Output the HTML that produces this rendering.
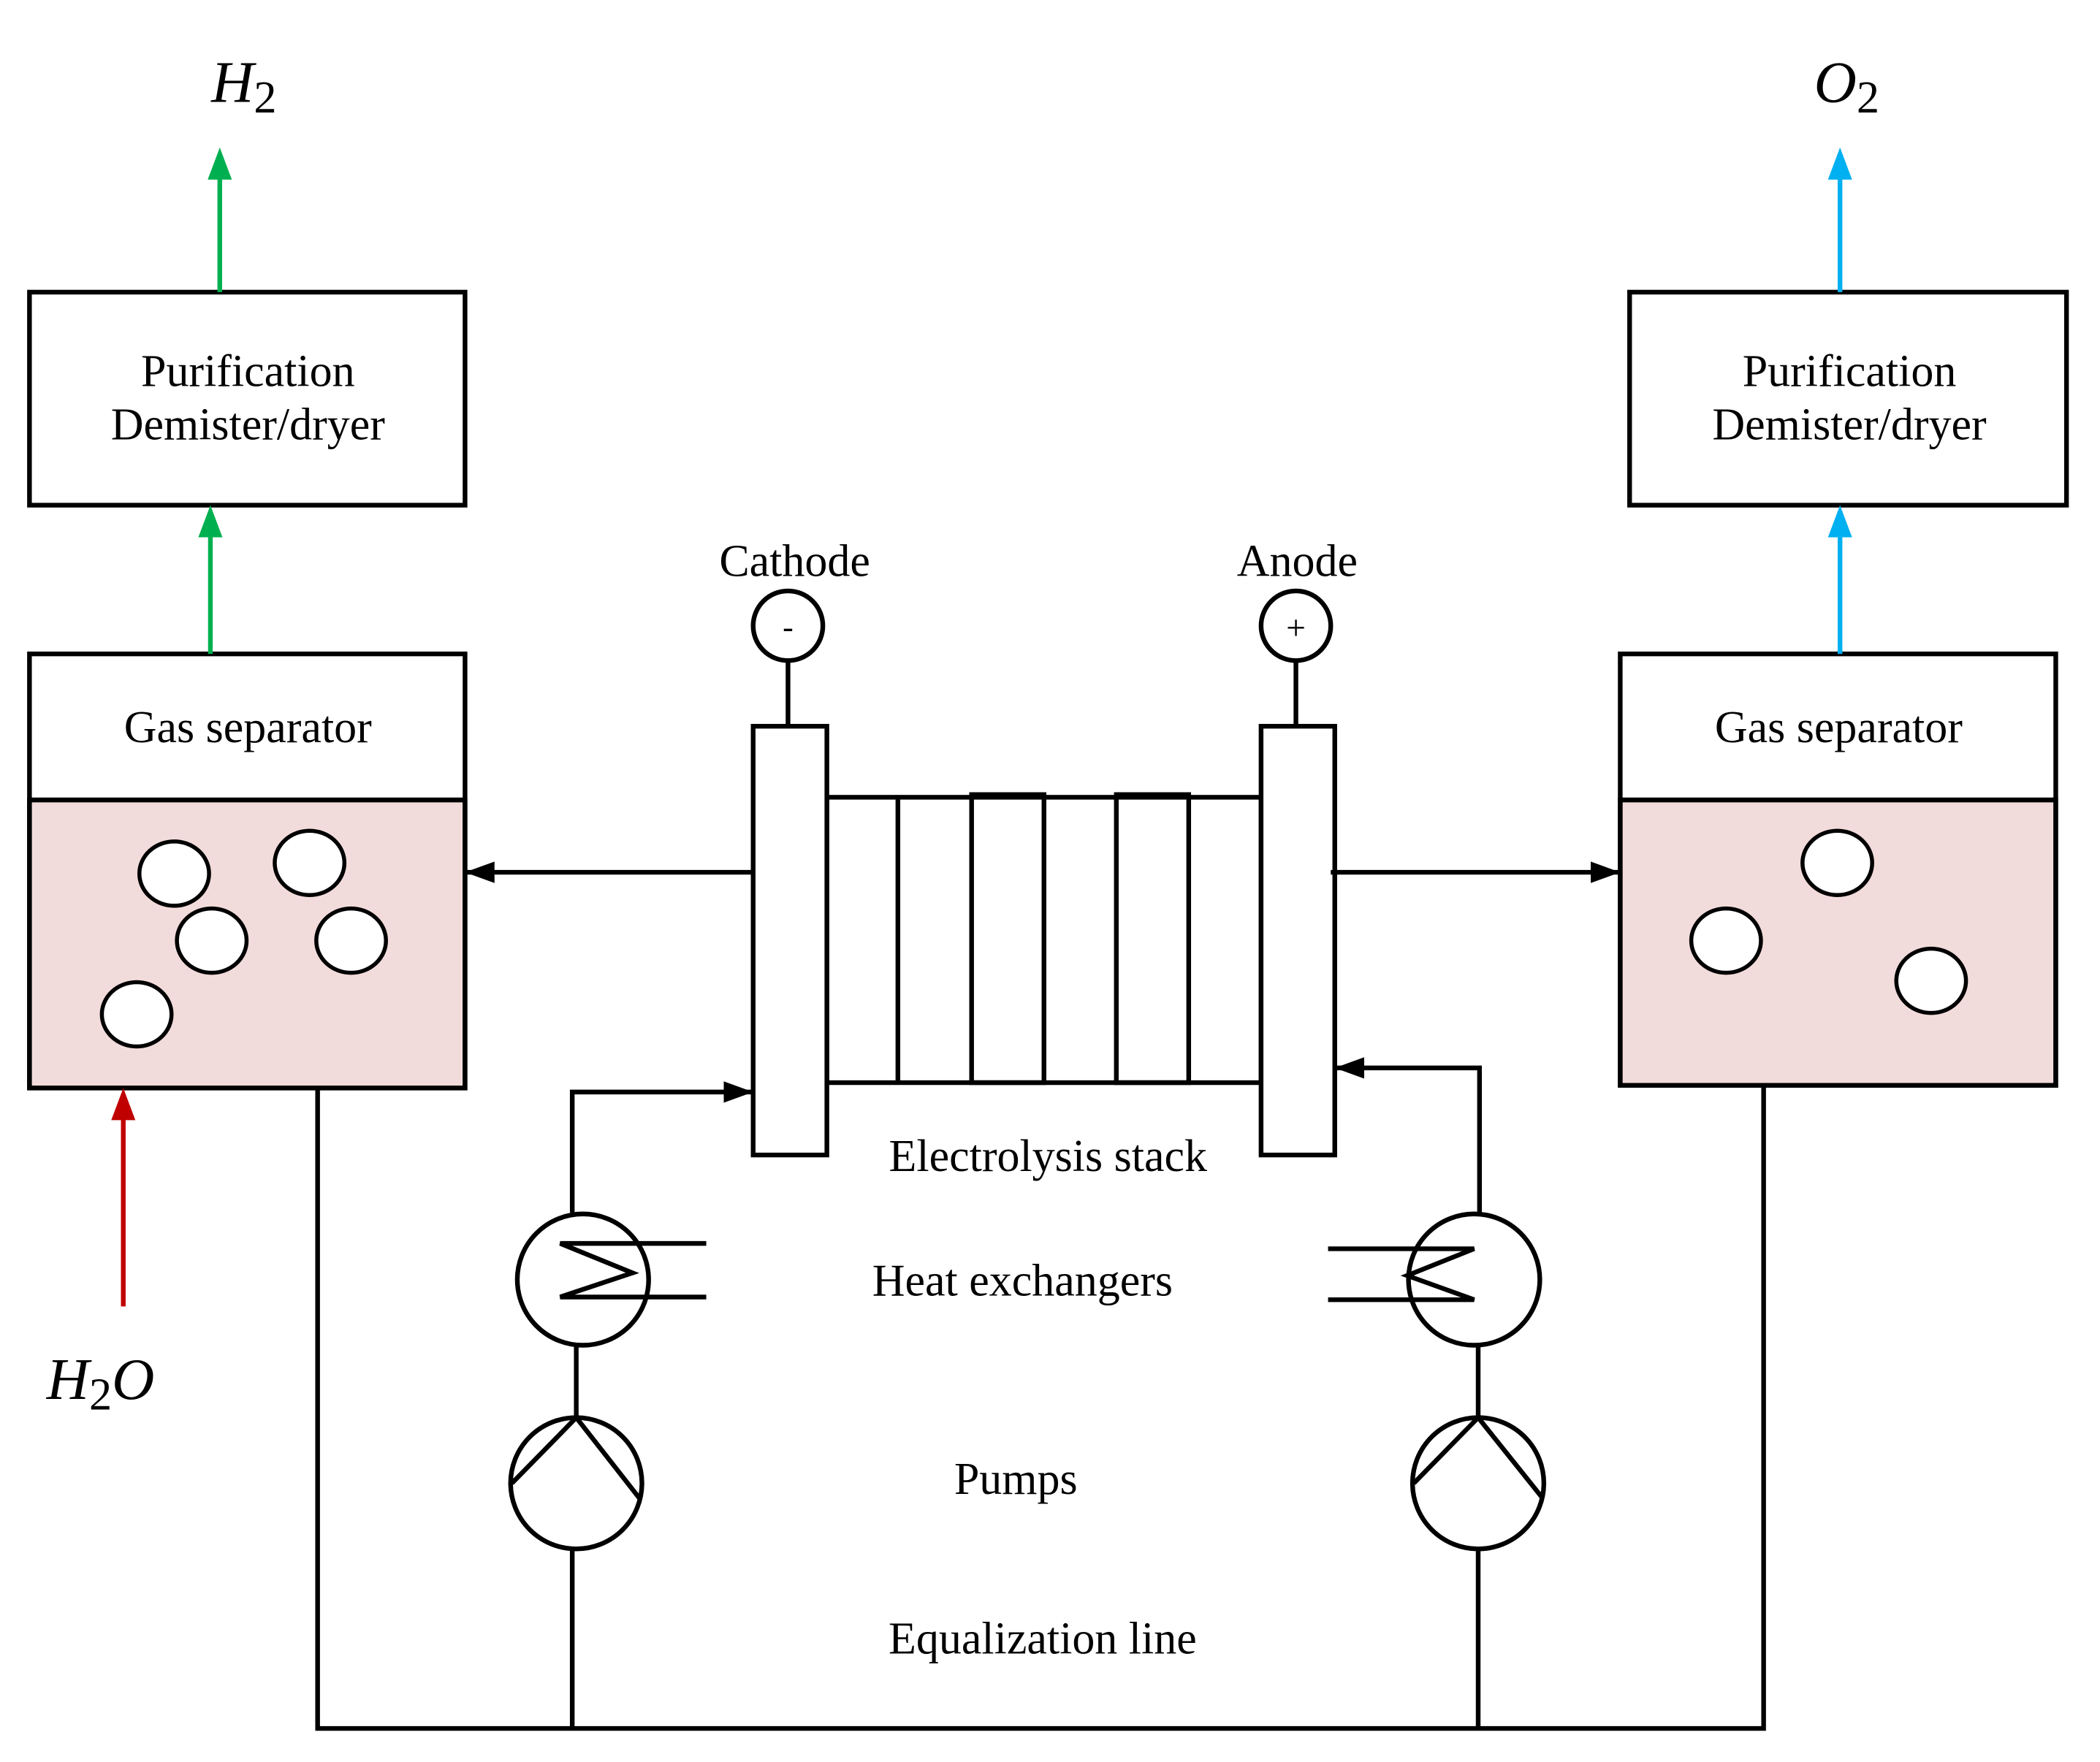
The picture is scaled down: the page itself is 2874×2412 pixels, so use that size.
<!DOCTYPE html>
<html><head><meta charset="utf-8"><style>html,body{margin:0;padding:0;background:#fff}svg{display:block}</style></head>
<body>
<svg width="2874" height="2412" viewBox="0 0 1567 1315" xmlns="http://www.w3.org/2000/svg" font-family="Liberation Serif, serif" font-size="33.8">
<defs>
<marker id="ak" markerWidth="22" markerHeight="16" refX="21" refY="8" orient="auto" markerUnits="userSpaceOnUse" viewBox="0 0 22 16"><path d="M0,0 L22,8 L0,16z" fill="#000"/></marker>
</defs>
<g stroke="#000" stroke-width="3.5" fill="none">
<rect x="22" y="218" width="325" height="159" fill="#fff"/>
<rect x="22" y="597" width="325" height="215" fill="#f2dcdb"/>
<rect x="22" y="488" width="325" height="324"/>
<line x1="22" y1="597" x2="347" y2="597"/>
<rect x="1216" y="218" width="326" height="159" fill="#fff"/>
<rect x="1209" y="597" width="325" height="213" fill="#f2dcdb"/>
<rect x="1209" y="488" width="325" height="322"/>
<line x1="1209" y1="597" x2="1534" y2="597"/>
<g fill="#fff" stroke-width="3">
<ellipse cx="130" cy="652" rx="26" ry="24"/><ellipse cx="231" cy="644" rx="26" ry="24"/>
<ellipse cx="158" cy="702" rx="26" ry="24"/><ellipse cx="262" cy="702" rx="26" ry="24"/>
<ellipse cx="102" cy="757" rx="26" ry="24"/>
<ellipse cx="1371" cy="644" rx="26" ry="24"/><ellipse cx="1288" cy="702" rx="26" ry="24"/>
<ellipse cx="1441" cy="732" rx="26" ry="24"/>
</g>
<rect x="617" y="595" width="324" height="213"/>
<line x1="670" y1="595" x2="670" y2="808"/>
<rect x="725" y="593" width="54" height="215"/>
<rect x="833" y="593" width="54" height="215"/>
<rect x="562" y="542" width="55" height="320" fill="#fff"/>
<rect x="941" y="542" width="55" height="320" fill="#fff"/>
<line x1="588" y1="493" x2="588" y2="542"/>
<line x1="967" y1="493" x2="967" y2="542"/>
<circle cx="588" cy="467" r="26"/>
<circle cx="967" cy="467" r="26"/>
<line x1="562" y1="651" x2="348" y2="651" marker-end="url(#ak)"/>
<line x1="993" y1="651" x2="1208" y2="651" marker-end="url(#ak)"/>
<polyline points="427,905 427,815 561,815" marker-end="url(#ak)"/>
<circle cx="435" cy="955" r="49"/>
<polyline points="527,928 418,928 472,950 418,968 527,968"/>
<line x1="430" y1="1004" x2="430" y2="1058"/>
<circle cx="430" cy="1107" r="49"/>
<polyline points="382,1107 430,1058 477,1118"/>
<line x1="427" y1="1156" x2="427" y2="1290"/>
<polyline points="1104,905 1104,797 997,797" marker-end="url(#ak)"/>
<circle cx="1100" cy="955" r="49"/>
<polyline points="991,932 1100,932 1050,952 1100,970 991,970"/>
<line x1="1103" y1="1004" x2="1103" y2="1058"/>
<circle cx="1103" cy="1107" r="49"/>
<polyline points="1055,1107 1103,1058 1151,1118"/>
<line x1="1103" y1="1156" x2="1103" y2="1290"/>
<polyline points="237,812 237,1290 1316,1290 1316,810"/>
</g>
<g stroke-width="3.5">
<line x1="164" y1="218" x2="164" y2="128" stroke="#00b050"/><path d="M155,134 L164,110 L173,134z" fill="#00b050"/>
<line x1="157" y1="488" x2="157" y2="395" stroke="#00b050"/><path d="M148,401 L157,377 L166,401z" fill="#00b050"/>
<line x1="1373" y1="218" x2="1373" y2="128" stroke="#00b0f0"/><path d="M1364,134 L1373,110 L1382,134z" fill="#00b0f0"/>
<line x1="1373" y1="488" x2="1373" y2="395" stroke="#00b0f0"/><path d="M1364,401 L1373,377 L1382,401z" fill="#00b0f0"/>
<line x1="92" y1="975" x2="92" y2="830" stroke="#c00000"/><path d="M83,836 L92,812 L101,836z" fill="#c00000"/>
</g>
<g text-anchor="middle" fill="#000">
<text x="185" y="288">Purification</text><text x="185" y="328">Demister/dryer</text>
<text x="1380" y="288">Purification</text><text x="1380" y="328">Demister/dryer</text>
<text x="185" y="554">Gas separator</text><text x="1372" y="554">Gas separator</text>
<text x="593" y="430">Cathode</text><text x="968" y="430">Anode</text>
<text x="588" y="476" font-size="24">-</text><text x="967" y="477" font-size="26">+</text>
<text x="782" y="874">Electrolysis stack</text>
<text x="763" y="967">Heat exchangers</text>
<text x="758" y="1115">Pumps</text>
<text x="778" y="1234">Equalization line</text>
<text x="182" y="76" font-size="44" font-style="italic">H<tspan font-style="normal" font-size="34" dy="8">2</tspan></text>
<text x="1378" y="76" font-size="44" font-style="italic">O<tspan font-style="normal" font-size="34" dy="8">2</tspan></text>
<text x="75" y="1044" font-size="44" font-style="italic">H<tspan font-style="normal" font-size="34" dy="8">2</tspan><tspan dy="-8">O</tspan></text>
</g>
</svg>
</body></html>
